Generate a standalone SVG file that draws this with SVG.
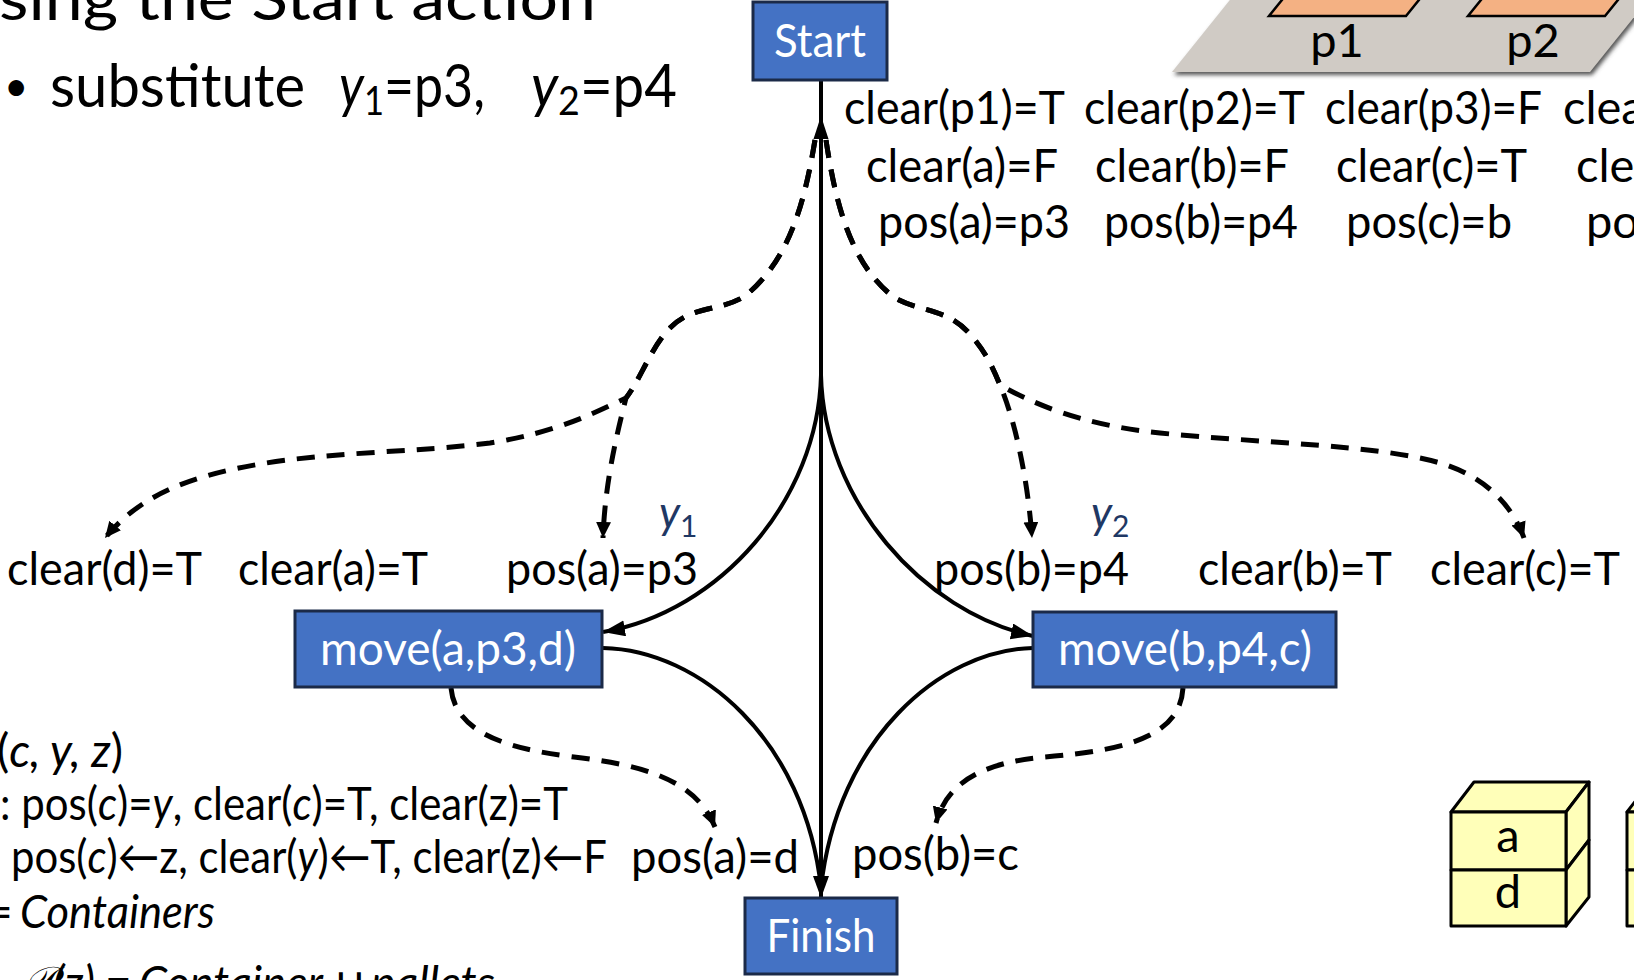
<svg xmlns="http://www.w3.org/2000/svg" width="1634" height="980" viewBox="0 0 1634 980">
  <style>
    text { font-family: Lato, "Open Sans", "Liberation Sans", "DejaVu Sans", sans-serif; fill: #000; }
    .lbl { font-size: 47px; }
    .big { font-size: 60px; }
    .it { font-style: italic; }
    .var { font-style: italic; fill: #1F3864; font-size: 44px; }
    .node rect { fill: #4472C4; stroke: #1B2A48; stroke-width: 3; }
    .node text { fill: #fff; font-size: 46px; text-anchor: middle; }
    .solid { fill: none; stroke: #000; stroke-width: 4; }
    .dash { fill: none; stroke: #000; stroke-width: 5; stroke-dasharray: 18 12; }
    .cube { fill: #FFFFB9; stroke: #000; stroke-width: 3; stroke-linejoin: round; }
    .pallet { fill: #F4B183; stroke: #000; stroke-width: 2.5; }
  </style>
  <defs>
    <marker id="arr" markerUnits="userSpaceOnUse" markerWidth="24" markerHeight="18" refX="22" refY="8" orient="auto">
      <path d="M0,0 L22,8 L0,16 z" fill="#000"/>
    </marker>
    <marker id="arrDash" markerUnits="userSpaceOnUse" markerWidth="18" markerHeight="16" refX="16" refY="7.5" orient="auto">
      <path d="M0,0 L16,7.5 L0,15 z" fill="#000"/>
    </marker>
    <filter id="soft" x="-5%" y="-50%" width="110%" height="200%">
      <feGaussianBlur stdDeviation="2"/>
    </filter>
  </defs>

  <rect width="1634" height="980" fill="#fff"/>

  <!-- slide heading and bullet -->
  <text class="big" x="-1" y="20" textLength="597" lengthAdjust="spacingAndGlyphs">sing the Start action</text>
  <text x="4" y="101" font-size="42">•</text>
  <text class="big" x="50" y="107" textLength="255" lengthAdjust="spacingAndGlyphs">substitute</text>
  <text class="big" x="339" y="107" textLength="146" lengthAdjust="spacingAndGlyphs"><tspan class="it">y</tspan><tspan font-size="40" dy="8">1</tspan><tspan dy="-8">=p3,</tspan></text>
  <text class="big" x="531" y="107" textLength="146" lengthAdjust="spacingAndGlyphs"><tspan class="it">y</tspan><tspan font-size="40" dy="8">2</tspan><tspan dy="-8">=p4</tspan></text>

  <!-- floor with pallets p1, p2 -->
  <g id="floor">
    <polygon points="1174,75 1592,75 1682,-37 1264,-37" fill="#555" filter="url(#soft)"/>
    <polygon points="1172,72 1590,72 1680,-40 1262,-40" fill="#D0CBC5"/>
    <polygon class="pallet" points="1269,16 1406,16 1427,-10 1290,-10"/>
    <polygon class="pallet" points="1468,16 1605,16 1626,-10 1489,-10"/>
    <text class="lbl" x="1337" y="57" text-anchor="middle">p1</text>
    <text class="lbl" x="1533" y="57" text-anchor="middle">p2</text>
  </g>

  <!-- state produced by Start -->
  <g id="start-effects" class="lbl">
    <text x="844" y="124" textLength="221" lengthAdjust="spacingAndGlyphs">clear(p1)=T</text>
    <text x="1084" y="124" textLength="221" lengthAdjust="spacingAndGlyphs">clear(p2)=T</text>
    <text x="1325" y="124" textLength="217" lengthAdjust="spacingAndGlyphs">clear(p3)=F</text>
    <text x="1563" y="124">clea</text>
    <text x="866" y="182" textLength="192" lengthAdjust="spacingAndGlyphs">clear(a)=F</text>
    <text x="1095" y="182" textLength="194" lengthAdjust="spacingAndGlyphs">clear(b)=F</text>
    <text x="1336" y="182" textLength="191" lengthAdjust="spacingAndGlyphs">clear(c)=T</text>
    <text x="1576" y="182">clea</text>
    <text x="878" y="238" textLength="192" lengthAdjust="spacingAndGlyphs">pos(a)=p3</text>
    <text x="1104" y="238" textLength="194" lengthAdjust="spacingAndGlyphs">pos(b)=p4</text>
    <text x="1346" y="238" textLength="166" lengthAdjust="spacingAndGlyphs">pos(c)=b</text>
    <text x="1586" y="238">po</text>
  </g>

  <!-- preconditions of the two move actions -->
  <g id="preconditions" class="lbl">
    <text x="7" y="585" textLength="195" lengthAdjust="spacingAndGlyphs">clear(d)=T</text>
    <text x="238" y="585" textLength="190" lengthAdjust="spacingAndGlyphs">clear(a)=T</text>
    <text x="506" y="585" textLength="192" lengthAdjust="spacingAndGlyphs">pos(a)=p3</text>
    <text x="934" y="585" textLength="195" lengthAdjust="spacingAndGlyphs">pos(b)=p4</text>
    <text x="1198" y="585" textLength="194" lengthAdjust="spacingAndGlyphs">clear(b)=T</text>
    <text x="1430" y="585" textLength="190" lengthAdjust="spacingAndGlyphs">clear(c)=T</text>
    <text class="var" x="659" y="528">y<tspan font-size="30" dy="9" font-style="normal">1</tspan></text>
    <text class="var" x="1091" y="528">y<tspan font-size="30" dy="9" font-style="normal">2</tspan></text>
    <text x="631" y="873" textLength="168" lengthAdjust="spacingAndGlyphs">pos(a)=d</text>
    <text x="852" y="870" textLength="167" lengthAdjust="spacingAndGlyphs">pos(b)=c</text>
  </g>

  <!-- action schema -->
  <g id="schema" style="font-size:46px">
    <text x="-3" y="767" textLength="126" lengthAdjust="spacingAndGlyphs">(<tspan class="it">c, y, z</tspan>)</text>
    <text x="0" y="820" textLength="568" lengthAdjust="spacingAndGlyphs">: pos(<tspan class="it">c</tspan>)=<tspan class="it">y</tspan>, clear(<tspan class="it">c</tspan>)=T, clear(z)=T</text>
    <text x="11" y="873" textLength="596" lengthAdjust="spacingAndGlyphs">pos(<tspan class="it">c</tspan>)←z, clear(<tspan class="it">y</tspan>)←T, clear(z)←F</text>
    <text x="-14" y="928">=</text>
    <text class="it" x="20" y="928" textLength="195" lengthAdjust="spacingAndGlyphs">Containers</text>
    <text class="it" x="21" y="999" textLength="74" lengthAdjust="spacingAndGlyphs">𝒫(z)</text>
    <text x="105" y="999">=</text>
    <text class="it" x="139" y="999" textLength="184" lengthAdjust="spacingAndGlyphs">Container</text>
    <text x="333" y="999">∪</text>
    <text class="it" x="371" y="999" textLength="124" lengthAdjust="spacingAndGlyphs">pallets</text>
  </g>

  <!-- ordering constraints and causal links -->
  <g id="connectors">
    <path class="solid" d="M821,80 L821,898" marker-end="url(#arr)"/>
    <polygon points="821,116 828.5,139 813.5,139" fill="#000"/>
    <path class="solid" d="M821,375 C818,500 720,612 603,632" marker-end="url(#arr)"/>
    <path class="solid" d="M603,648 C700,650 805,740 821,888"/>
    <path class="solid" d="M821,375 C824,500 922,612 1033,636" marker-end="url(#arr)"/>
    <path class="solid" d="M1033,648 C940,650 837,740 821,888"/>

    <path class="dash" d="M815,140 C805,200 790,260 745,296 C720,312 690,305 668,330 C650,350 640,380 626,398 C618,430 605,480 603,538" marker-end="url(#arrDash)"/>
    <path class="dash" d="M815,140 C805,200 790,260 745,296 C720,312 690,305 668,330 C650,350 640,380 626,398 C600,410 560,432 490,443 C420,452 330,452 260,464 C190,476 140,495 105,538" marker-end="url(#arrDash)"/>
    <path class="dash" d="M826,140 C835,200 850,265 895,298 C920,312 945,308 968,332 C985,350 993,368 1000,385 C1015,420 1028,480 1032,538" marker-end="url(#arrDash)"/>
    <path class="dash" d="M826,140 C835,200 850,265 895,298 C920,312 945,308 968,332 C985,350 993,368 1000,385 C1030,402 1080,425 1160,433 C1260,443 1380,445 1440,463 C1480,475 1510,500 1524,538" marker-end="url(#arrDash)"/>
    <path class="dash" d="M451,688 C455,730 500,748 574,757 C640,765 695,778 715,827" marker-end="url(#arrDash)"/>
    <path class="dash" d="M1183,688 C1180,735 1130,750 1045,757 C990,762 948,778 936,823" marker-end="url(#arrDash)"/>
  </g>

  <!-- actions -->
  <g id="start" class="node">
    <rect x="753" y="2" width="134" height="78"/>
    <text x="820" y="57" textLength="92" lengthAdjust="spacingAndGlyphs">Start</text>
  </g>
  <g id="move-a" class="node">
    <rect x="295" y="611" width="307" height="76"/>
    <text x="448" y="665" textLength="256" lengthAdjust="spacingAndGlyphs">move(a,p3,d)</text>
  </g>
  <g id="move-b" class="node">
    <rect x="1033" y="612" width="303" height="75"/>
    <text x="1185" y="665" textLength="254" lengthAdjust="spacingAndGlyphs">move(b,p4,c)</text>
  </g>
  <g id="finish" class="node">
    <rect x="745" y="898" width="152" height="76"/>
    <text x="821" y="952" textLength="109" lengthAdjust="spacingAndGlyphs">Finish</text>
  </g>

  <!-- stack: a on d -->
  <g id="stack-ad">
    <polygon class="cube" points="1451,812 1474,782 1589,782 1566,812"/>
    <polygon class="cube" points="1566,812 1589,782 1589,840 1566,870"/>
    <polygon class="cube" points="1566,870 1589,840 1589,897 1566,926"/>
    <rect class="cube" x="1451" y="812" width="115" height="58"/>
    <rect class="cube" x="1451" y="870" width="115" height="56"/>
    <text class="lbl" x="1508" y="852" text-anchor="middle">a</text>
    <text class="lbl" x="1508" y="908" text-anchor="middle">d</text>
  </g>
  <!-- second stack at the right edge -->
  <g id="stack-2">
    <polygon class="cube" points="1627,812 1650,782 1765,782 1742,812"/>
    <rect class="cube" x="1627" y="812" width="115" height="58"/>
    <rect class="cube" x="1627" y="870" width="115" height="56"/>
  </g>
</svg>
